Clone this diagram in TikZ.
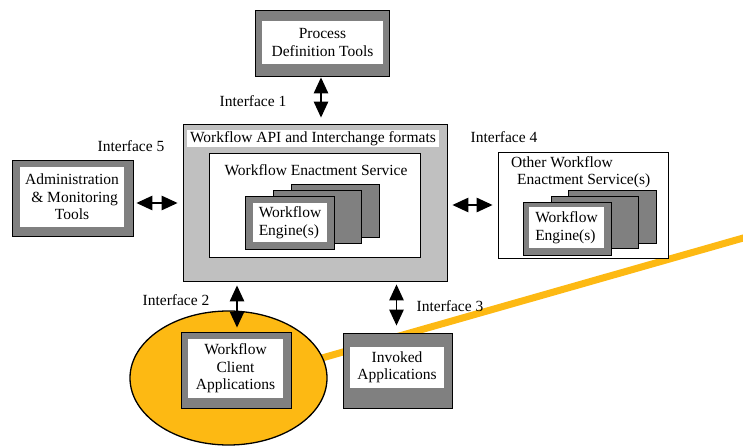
\documentclass[tikz,border=0pt]{standalone}
\usepackage{fontspec}
\setmainfont{Liberation Serif}
\usetikzlibrary{arrows.meta,shapes.geometric}
\definecolor{boxgray}{RGB}{128,128,128}
\definecolor{panelgray}{RGB}{192,192,192}
\definecolor{amber}{RGB}{253,185,19}
\tikzset{
  x=1pt, y=-1pt,
  every node/.style={font=\fontsize{15.5}{17.5}\selectfont, inner sep=0pt},
  framebox/.style={draw=black, line width=0.9pt, fill=boxgray, rectangle},
  whitebox/.style={fill=white, rectangle, align=center},
  plainbox/.style={draw=black, line width=0.9pt, fill=white, rectangle},
  dbl/.style={line width=1.3pt, {Triangle[length=16pt,width=14.5pt]}-{Triangle[length=16pt,width=14.5pt]}},
  label/.style={anchor=center}
}
\begin{document}
\begin{tikzpicture}
\useasboundingbox (0,0) rectangle (743,446);

% client sphere and its link line
\draw[amber, line width=7pt] (315,360) -- (745,237.5);
\node[ellipse, draw=black, line width=1.3pt, fill=amber,
      minimum width=197, minimum height=134] (sphere) at (228.5,378) {};

% process definition tools
\node[framebox, minimum width=134, minimum height=66] (pdtO) at (322,43) {};
\node[whitebox, minimum width=121, minimum height=43] (pdt) at (322.5,42.5)
  {Process\\Definition Tools};

% central enactment service
\node[draw=black, line width=0.9pt, fill=panelgray, minimum width=264, minimum height=157] (mainO) at (315,202.5) {};
\node[whitebox, minimum width=252, minimum height=17] (api) at (313,138.5)
  {Workflow API and Interchange formats};
\node[plainbox, minimum width=211, minimum height=104] (wes) at (314.5,205) {};
\node (wesT) at (316,170) {Workflow Enactment Service};
\node[framebox, minimum width=88, minimum height=53] (engC) at (335,210.5) {};
\node[framebox, minimum width=88, minimum height=53] (engB) at (317,216.5) {};
\node[framebox, minimum width=89, minimum height=53] (engA) at (289.5,222.5) {};
\node[whitebox, minimum width=74, minimum height=39, align=left] (eng) at (290,222.5)
  {Workflow\\Engine(s)};

% administration tools
\node[framebox, minimum width=121, minimum height=76] (admO) at (72.5,198) {};
\node[whitebox, minimum width=104, minimum height=60] (adm) at (72,197)
  {Administration\\\,\,\& Monitoring\\Tools};

% other enactment services
\node[plainbox, minimum width=170, minimum height=106] (othO) at (583,205) {};
\node[anchor=north west, align=left] (othT) at (511,156)
  {Other Workflow\\\hspace*{6pt}Enactment Service(s)};
\node[framebox, minimum width=88, minimum height=53] (oengC) at (612,216.5) {};
\node[framebox, minimum width=87, minimum height=52] (oengB) at (594.5,222) {};
\node[framebox, minimum width=88, minimum height=53] (oengA) at (567,228.5) {};
\node[whitebox, minimum width=75, minimum height=41, align=left] (oeng) at (566.5,227.5)
  {Workflow\\Engine(s)};

% client applications
\node[framebox, minimum width=110, minimum height=76] (cliO) at (236,370) {};
\node[whitebox, minimum width=95, minimum height=59] (cli) at (235.5,368.5)
  {Workflow\\Client\\Applications};

% invoked applications
\node[framebox, minimum width=109, minimum height=75] (invO) at (397.5,370.5) {};
\node[whitebox, minimum width=94, minimum height=41] (inv) at (397,367.5)
  {Invoked\\Applications};

% interface arrows
\draw[dbl, shorten <=1pt, shorten >=6pt] ([xshift=-1pt]pdtO.south) -- ([xshift=-1pt]pdtO.south |- mainO.north);
\draw[dbl, shorten <=3pt, shorten >=5pt] ([yshift=-5pt]admO.east) -- ([yshift=-5pt]admO.east -| mainO.west);
\draw[dbl, shorten <=5pt, shorten >=5pt] (mainO.east |- othO.west) -- (othO.west);
\draw[dbl, shorten <=4pt, shorten >=4pt] ([xshift=1pt]cliO.north |- mainO.south) -- ([xshift=1pt]cliO.north);
\draw[dbl, shorten <=3pt, shorten >=7pt] ([xshift=-1pt]invO.north |- mainO.south) -- ([xshift=-1pt]invO.north);

% interface labels
\node[label] (if1) at (253,101) {Interface 1};
\node[label] (if5) at (131,146) {Interface 5};
\node[label] (if4) at (504,137) {Interface 4};
\node[label] (if2) at (176,300) {Interface 2};
\node[label] (if3) at (450,306) {Interface 3};
\end{tikzpicture}
\end{document}
